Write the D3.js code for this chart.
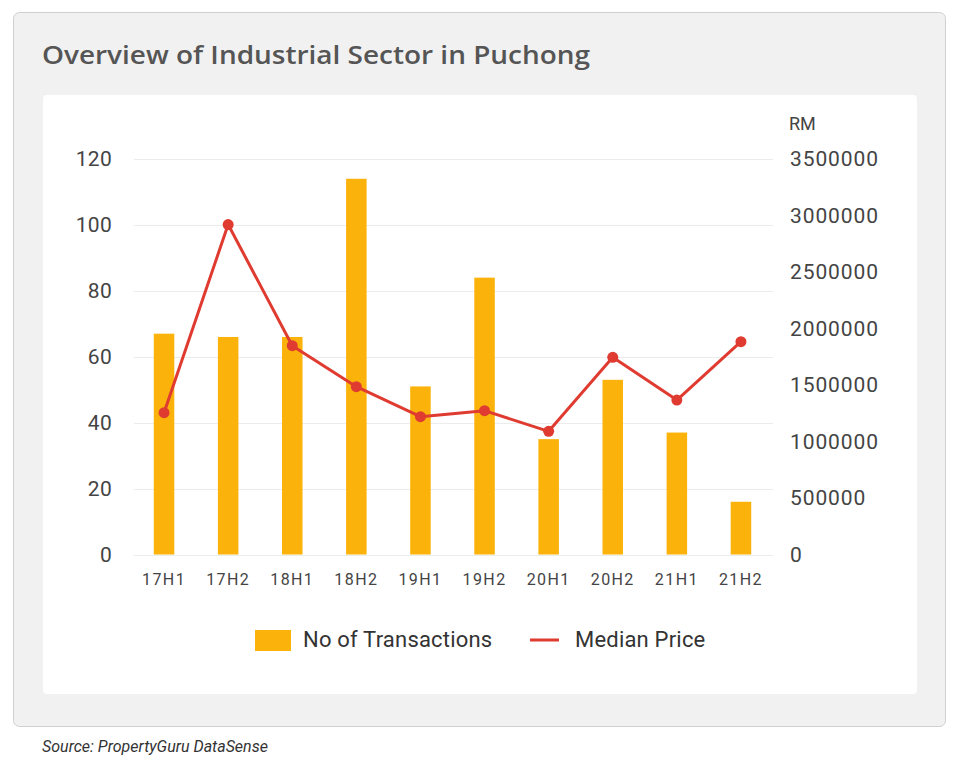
<!DOCTYPE html>
<meta charset="utf-8">
<style>
    body { margin: 0; background: #fff; }
    text { font-family: Roboto, sans-serif; }
    .grid line { stroke: #ececec; stroke-width: 1; shape-rendering: crispEdges; }
</style>
<div class="chart"></div>
<script src="https://cdn.jsdelivr.net/npm/d3@7"></script>
<script>
    // data
    var periods = ["17H1","17H2","18H1","18H2","19H1","19H2","20H1","20H2","21H1","21H2"];
    var transactions = [67, 66, 66, 114, 51, 84, 35, 53, 37, 16];
    var medianPrice = [1255000, 2920000, 1848000, 1485000, 1220000, 1273000, 1090000, 1745000, 1367000, 1883000];
    var leftTicks = [0, 20, 40, 60, 80, 100, 120];
    var rightTicks = [0, 500000, 1000000, 1500000, 2000000, 2500000, 3000000, 3500000];

    var W = 960, H = 769;
    var barColor = "#fbb30b", lineColor = "#e03b30";

    var svg = d3.select(".chart").append("svg")
        .attr("width", W)
        .attr("height", H);

    // card + inner panel
    svg.append("rect")
        .attr("x", 13.5).attr("y", 12.5)
        .attr("width", 932).attr("height", 714)
        .attr("rx", 6)
        .attr("fill", "#f1f1f1")
        .attr("stroke", "#cfcfcf");
    svg.append("rect")
        .attr("x", 43).attr("y", 95)
        .attr("width", 874).attr("height", 599)
        .attr("rx", 4)
        .attr("fill", "#fff");

    svg.append("text")
        .attr("x", 42).attr("y", 64)
        .style("font-family", "'Open Sans', sans-serif")
        .style("font-weight", 600)
        .style("font-size", "25px")
        .attr("textLength", 548)
        .attr("lengthAdjust", "spacingAndGlyphs")
        .attr("fill", "#555")
        .text("Overview of Industrial Sector in Puchong");

    var x = d3.scaleBand()
        .domain(periods)
        .range([132, 773])
        .paddingInner(0.68)
        .paddingOuter(0.34);

    var yL = d3.scaleLinear().domain([0, 120]).range([554.5, 159]);
    var yR = d3.scaleLinear().domain([0, 3500000]).range([554.5, 159]);

    // gridlines
    svg.append("g").attr("class", "grid")
        .selectAll("line")
        .data(leftTicks)
        .enter().append("line")
        .attr("x1", 134).attr("x2", 773)
        .attr("y1", function(d) { return Math.round(yL(d)) + 0.5; })
        .attr("y2", function(d) { return Math.round(yL(d)) + 0.5; });

    // left axis
    var axL = svg.append("g")
        .attr("transform", "translate(118,0)")
        .call(d3.axisLeft(yL).tickValues(leftTicks).tickSize(0).tickPadding(6));
    axL.select(".domain").remove();
    axL.selectAll("text")
        .style("font-family", "Roboto, sans-serif")
        .style("font-size", "21px")
        .style("letter-spacing", "0.3px")
        .attr("fill", "#444");

    // right axis
    var axR = svg.append("g")
        .attr("transform", "translate(784,0)")
        .call(d3.axisRight(yR).tickValues(rightTicks).tickSize(0).tickPadding(6).tickFormat(d3.format("d")));
    axR.select(".domain").remove();
    axR.selectAll("text")
        .style("font-family", "Roboto, sans-serif")
        .style("font-size", "21px")
        .style("letter-spacing", "0.9px")
        .attr("fill", "#444");

    svg.append("text")
        .attr("x", 789).attr("y", 130)
        .style("font-size", "18px")
        .attr("fill", "#444")
        .text("RM");

    // x axis
    var axX = svg.append("g")
        .attr("transform", "translate(0,566)")
        .call(d3.axisBottom(x).tickSize(0).tickPadding(8));
    axX.select(".domain").remove();
    axX.selectAll("text")
        .style("font-family", "Roboto, sans-serif")
        .style("font-size", "16px")
        .style("letter-spacing", "1.4px")
        .attr("fill", "#444");

    // bars
    svg.append("g")
        .selectAll("rect")
        .data(transactions)
        .enter().append("rect")
        .attr("x", function(d, i) { return x(periods[i]); })
        .attr("y", function(d) { return yL(d); })
        .attr("width", x.bandwidth())
        .attr("height", function(d) { return yL(0) - yL(d); })
        .attr("fill", barColor);

    // median price line
    var line = d3.line()
        .x(function(d, i) { return x(periods[i]) + x.bandwidth() / 2; })
        .y(function(d) { return yR(d); });

    svg.append("path")
        .datum(medianPrice)
        .attr("d", line)
        .attr("fill", "none")
        .attr("stroke", lineColor)
        .attr("stroke-width", 3)
        .attr("stroke-linejoin", "round");

    svg.append("g")
        .selectAll("circle")
        .data(medianPrice)
        .enter().append("circle")
        .attr("cx", function(d, i) { return x(periods[i]) + x.bandwidth() / 2; })
        .attr("cy", function(d) { return yR(d); })
        .attr("r", 5.5)
        .attr("fill", lineColor);

    // legend
    var lg = svg.append("g");
    lg.append("rect")
        .attr("x", 255).attr("y", 630)
        .attr("width", 36).attr("height", 21)
        .attr("fill", barColor);
    lg.append("text")
        .attr("x", 303).attr("y", 647)
        .style("font-size", "22px")
        .style("letter-spacing", "0.2px")
        .attr("fill", "#333")
        .text("No of Transactions");
    lg.append("line")
        .attr("x1", 530).attr("x2", 559)
        .attr("y1", 640).attr("y2", 640)
        .attr("stroke", lineColor)
        .attr("stroke-width", 3);
    lg.append("text")
        .attr("x", 575).attr("y", 647)
        .style("font-size", "22px")
        .style("letter-spacing", "0.2px")
        .attr("fill", "#333")
        .text("Median Price");

    svg.append("text")
        .attr("x", 42).attr("y", 752)
        .style("font-size", "16px")
        .style("font-style", "italic")
        .attr("fill", "#333")
        .text("Source: PropertyGuru DataSense");
</script>
